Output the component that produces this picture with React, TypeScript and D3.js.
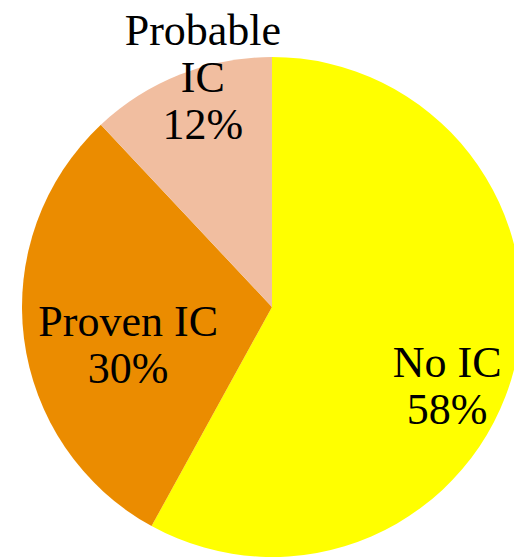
import React from "react";
import * as d3 from "d3";

const categories = ["No IC", "Proven IC", "Probable IC"];
const values = [58, 30, 12];
const colors = ["#FFFF00", "#EB8C00", "#F1BEA0"];
// label lines per slice
const labelLines = [["No IC", "58%"], ["Proven IC", "30%"], ["Probable", "IC", "12%"]];

const W = 514;
const H = 557;
const cx = 272;
const cy = 307;
const R = 250;

export default function App() {
  const pie = d3.pie<number>().sort(null).value((d) => d);
  const arcs = pie(values);
  const arc = d3.arc<d3.PieArcDatum<number>>().innerRadius(0).outerRadius(R);
  // label radial position + nudge
  const labelRadius = [185, 150, 215];
  const nudge = [
    [-4, 47],
    [5, 34],
    [10, -15],
  ];
  const lineH = 47;
  return (
    <svg
      width={W}
      height={H}
      style={{ position: "absolute", left: 0, top: 0 }}
      fontFamily="'Liberation Serif', 'Times New Roman', serif"
    >
      <g transform={`translate(${cx},${cy})`}>
        {arcs.map((a, i) => (
          <path key={categories[i]} d={arc(a) || ""} fill={colors[i]} />
        ))}
        {arcs.map((a, i) => {
          const mid = (a.startAngle + a.endAngle) / 2;
          const x = Math.sin(mid) * labelRadius[i] + nudge[i][0];
          const y = -Math.cos(mid) * labelRadius[i] + nudge[i][1];
          const lines = labelLines[i];
          const y0 = y - ((lines.length - 1) * lineH) / 2;
          return (
            <text key={"l" + i} x={x} y={y0} textAnchor="middle" fontSize={44} fill="#000">
              {lines.map((ln, j) => (
                <tspan key={j} x={x} y={y0 + j * lineH}>
                  {ln}
                </tspan>
              ))}
            </text>
          );
        })}
      </g>
    </svg>
  );
}
